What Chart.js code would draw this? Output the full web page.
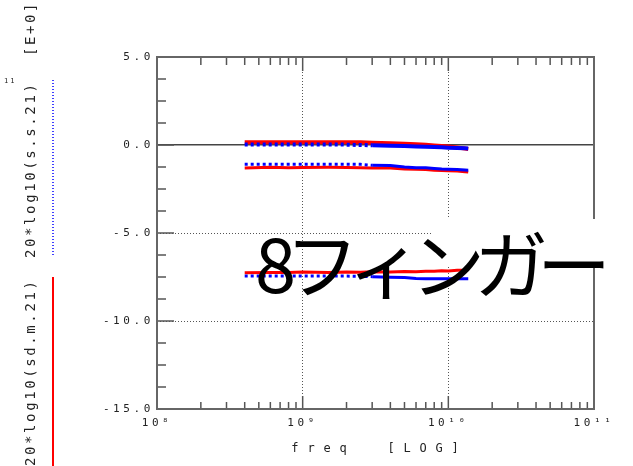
<!DOCTYPE html>
<html lang="ja">
<head>
<meta charset="UTF-8">
<title>8フィンガー</title>
<script src="https://cdn.jsdelivr.net/npm/chart.js@4.4.0/dist/chart.umd.min.js"></script>
<style>
  html, body { margin: 0; padding: 0; background: #fff; }
  #wrap { width: 633px; height: 466px; }
</style>
</head>
<body>
<div id="wrap"><canvas id="myChart" width="633" height="466"></canvas></div>
<script>
// frequency sweep [Hz]
var freq = [4e8, 6e8, 8e8, 1e9, 1.5e9, 2e9, 2.5e9, 3e9, 4e9, 5e9, 6e9, 7e9, 8e9, 9e9, 1e10, 1.15e10, 1.3e10, 1.37e10];

// 20*log10(sd.m.21) - red, solid
var sdmTop = [0.15, 0.16, 0.16, 0.16, 0.16, 0.16, 0.15, 0.13, 0.10, 0.07, 0.04, 0.01, -0.03, -0.06, -0.09, -0.14, -0.20, -0.23];
var sdmMid = [-1.30, -1.27, -1.29, -1.28, -1.27, -1.28, -1.29, -1.30, -1.31, -1.36, -1.38, -1.39, -1.43, -1.45, -1.46, -1.48, -1.52, -1.54];
var sdmLow = [-7.26, -7.25, -7.24, -7.22, -7.24, -7.22, -7.23, -7.20, -7.22, -7.19, -7.20, -7.17, -7.18, -7.15, -7.16, -7.12, -7.10, -7.07];

// 20*log10(s.s.21) - blue, dotted
var ssTop = [0.03, 0.03, 0.03, 0.03, 0.03, 0.02, 0.00, -0.02, -0.04, -0.06, -0.08, -0.10, -0.12, -0.13, -0.15, -0.17, -0.19, -0.20];
var ssMid = [-1.09, -1.09, -1.09, -1.09, -1.09, -1.09, -1.10, -1.15, -1.17, -1.25, -1.29, -1.29, -1.33, -1.37, -1.38, -1.39, -1.42, -1.43];
var ssLow = [-7.45, -7.45, -7.45, -7.45, -7.45, -7.45, -7.46, -7.48, -7.51, -7.53, -7.59, -7.60, -7.60, -7.60, -7.60, -7.60, -7.60, -7.60];

// axes
var xTickValues = [1e8, 2e8, 3e8, 4e8, 5e8, 6e8, 7e8, 8e8, 9e8,
                   1e9, 2e9, 3e9, 4e9, 5e9, 6e9, 7e9, 8e9, 9e9,
                   1e10, 2e10, 3e10, 4e10, 5e10, 6e10, 7e10, 8e10, 9e10, 1e11];
var xMajor = [1e8, 1e9, 1e10, 1e11];
var xLabels = ['10⁸', '10⁹', '10¹⁰', '10¹¹'];
var yMin = -15, yMax = 5, yMinorStep = 1.25, yLabelStep = 5;

var xTitle = 'freq  [LOG]';
var yTitleTop = '[E+0]';
var yTitleBlue = '20*log10(s.s.21)';
var yTitleRed = '20*log10(sd.m.21)';
var noteText = '8フィンガー';

var RED = '#ff0000', BLUE = '#0000ff';
var MONO = '"DejaVu Sans Mono", monospace';

function pts(ys) {
    return freq.map(function (f, i) { return { x: f, y: ys[i] }; });
}
// sparse low-frequency points print as dots, dense ones merge into a line
function dotted(c) {
    return c.p0.parsed.x < 2.7e9 ? [3, 3] : undefined;
}

var traces = [
    { label: 'ss top', data: pts(ssTop), borderColor: BLUE, borderWidth: 4, order: 0, segment: { borderDash: dotted } },
    { label: 'ss mid', data: pts(ssMid), borderColor: BLUE, borderWidth: 3, order: 0, segment: { borderDash: dotted } },
    { label: 'ss low', data: pts(ssLow), borderColor: BLUE, borderWidth: 3, order: 0, segment: { borderDash: dotted } },
    { label: 'sdm top', data: pts(sdmTop), borderColor: RED, borderWidth: 4, order: 1 },
    { label: 'sdm mid', data: pts(sdmMid), borderColor: RED, borderWidth: 3, order: 1 },
    { label: 'sdm low', data: pts(sdmLow), borderColor: RED, borderWidth: 3, order: 1 }
];

function isMajorY(v) { return Math.abs(v % yLabelStep) < 1e-9; }

var frame = {
    id: 'frame',
    beforeDraw: function (chart) {
        chart.ctx.letterSpacing = '3.6px';
    },
    afterDraw: function (chart) {
        var ctx = chart.ctx, a = chart.chartArea;
        var xs = chart.scales.x, ys = chart.scales.y;
        function line(x1, y1, x2, y2) {
            ctx.beginPath(); ctx.moveTo(x1, y1); ctx.lineTo(x2, y2); ctx.stroke();
        }
        ctx.save();
        ctx.setLineDash([]);
        ctx.strokeStyle = '#555';
        ctx.lineWidth = 1.5;
        // inward tick marks, placed by the scales
        xs.ticks.forEach(function (t) {
            var px = xs.getPixelForValue(t.value);
            var major = xMajor.indexOf(t.value) >= 0;
            line(px, a.bottom, px, a.bottom - (major ? 13 : 7));
            line(px, a.top, px, a.top + (major ? 14 : 8));
        });
        ys.ticks.forEach(function (t) {
            var py = ys.getPixelForValue(t.value);
            line(a.left, py, a.left + (isMajorY(t.value) ? 17 : 9), py);
        });
        ctx.lineWidth = 2;
        ctx.strokeStyle = '#666';
        ctx.strokeRect(a.left, a.top, a.right - a.left, a.bottom - a.top);

        // white label box behind the note
        ctx.fillStyle = '#fff';
        ctx.fillRect(431, 219, 210, 46);

        // x title
        ctx.fillStyle = '#222';
        ctx.font = '12px ' + MONO;
        ctx.letterSpacing = '8.8px';
        ctx.textAlign = 'center';
        ctx.textBaseline = 'alphabetic';
        ctx.fillText(xTitle, (a.left + a.right) / 2 + 4, 452);

        // y titles, rotated
        ctx.font = '14px ' + MONO;
        ctx.letterSpacing = '2.6px';
        ctx.textAlign = 'left';
        [[yTitleTop, 56], [yTitleBlue, 258], [yTitleRed, 466]].forEach(function (t) {
            ctx.save();
            ctx.translate(35, t[1]);
            ctx.rotate(-Math.PI / 2);
            ctx.fillText(t[0], 0, 0);
            ctx.restore();
        });
        ctx.font = '7px ' + MONO;
        ctx.letterSpacing = '2px';
        ctx.fillText('11', 4, 83);

        // legend lines next to the titles
        ctx.strokeStyle = BLUE;
        ctx.lineWidth = 1.5;
        ctx.setLineDash([1, 2]);
        line(53, 80, 53, 257);
        ctx.setLineDash([]);
        ctx.strokeStyle = RED;
        ctx.lineWidth = 2;
        line(53, 277, 53, 466);

        // note
        ctx.fillStyle = '#000';
        ctx.font = '74px "Noto Sans CJK JP"';
        ctx.letterSpacing = '-11px';
        ctx.fillText(noteText, 255, 293);
        ctx.restore();
    }
};

var ctx = document.getElementById('myChart').getContext('2d');
var chart = new Chart(ctx, {
    type: 'line',
    data: { datasets: traces },
    options: {
        responsive: false,
        animation: false,
        devicePixelRatio: 1,
        layout: { padding: { left: 0, right: 39, top: 57, bottom: 0 } },
        elements: { point: { radius: 0 }, line: { tension: 0, fill: false } },
        plugins: { legend: { display: false }, tooltip: { enabled: false } },
        scales: {
            x: {
                type: 'logarithmic',
                min: 1e8,
                max: 1e11,
                afterBuildTicks: function (s) {
                    s.ticks = xTickValues.map(function (v) { return { value: v }; });
                },
                afterFit: function (s) { s.height = 57; },
                ticks: {
                    autoSkip: false,
                    maxRotation: 0,
                    padding: 8,
                    color: '#222',
                    font: { family: MONO, size: 11 },
                    callback: function (v) {
                        var i = xMajor.indexOf(v);
                        return i >= 0 ? xLabels[i] : '';
                    }
                },
                grid: {
                    drawTicks: false,
                    lineWidth: 1,
                    color: function (c) {
                        var v = c.tick && c.tick.value;
                        return (v === 1e9 || v === 1e10) ? '#555' : 'rgba(0,0,0,0)';
                    }
                },
                border: { display: false, dash: [1, 2] }
            },
            y: {
                min: yMin,
                max: yMax,
                afterFit: function (s) { s.width = 157; },
                ticks: {
                    stepSize: yMinorStep,
                    autoSkip: false,
                    padding: 3,
                    color: '#222',
                    font: { family: MONO, size: 11 },
                    callback: function (v) { return isMajorY(v) ? v.toFixed(1) : ''; }
                },
                grid: {
                    drawTicks: false,
                    lineWidth: function (c) { return (c.tick && c.tick.value === 0) ? 1.5 : 1; },
                    color: function (c) {
                        var v = c.tick && c.tick.value;
                        if (v === 0) return '#444';
                        if (v === -5 || v === -10) return '#555';
                        return 'rgba(0,0,0,0)';
                    }
                },
                border: {
                    display: false,
                    dash: function (c) { return (c.tick && c.tick.value === 0) ? [] : [1, 2]; }
                }
            }
        }
    },
    plugins: [frame]
});
</script>
</body>
</html>
